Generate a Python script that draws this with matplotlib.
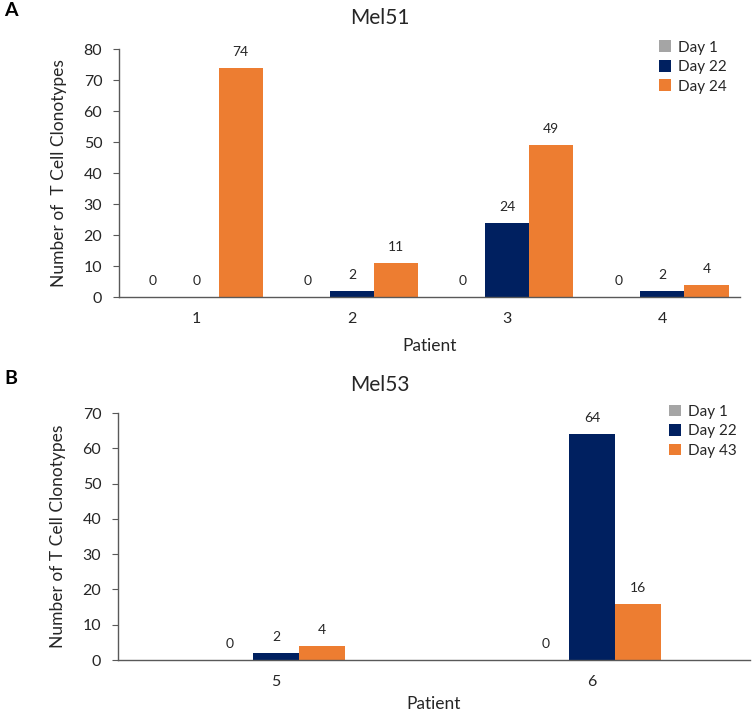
import matplotlib
matplotlib.use("Agg")
import matplotlib.pyplot as plt
import numpy as np

plt.rcParams['font.family'] = ['Lato', 'DejaVu Sans']

# Data
patients_a = ["1", "2", "3", "4"]
day1_a = [0, 0, 0, 0]
day22_a = [0, 2, 24, 2]
day24_a = [74, 11, 49, 4]

patients_b = ["5", "6"]
day1_b = [0, 0]
day22_b = [2, 64]
day43_b = [4, 16]

C_GRAY = "#A5A5A5"
C_NAVY = "#002060"
C_ORANGE = "#ED7D31"
TXT = "#262626"
SPINE = "#595959"

W, H = 752, 714
fig = plt.figure(figsize=(W/100, H/100), dpi=100)

def px_axes(l, r, b, t):
    return fig.add_axes([l/W, 1 - b/H, (r-l)/W, (b-t)/H])

def draw(ax, cats, series, labels, ymax, ystep, bw, ylabel, xlabelpad):
    x = np.arange(len(cats))
    colors = [C_GRAY, C_NAVY, C_ORANGE]
    offs = [-bw, 0, bw]
    for vals, lab, c, o in zip(series, labels, colors, offs):
        bars = ax.bar(x + o, vals, bw, color=c, label=lab)
        for rect, v in zip(bars, vals):
            ax.annotate(str(v), (rect.get_x() + rect.get_width()/2, rect.get_height()),
                        xytext=(0, 7), textcoords="offset points",
                        ha="center", va="bottom", fontsize=10, color=TXT)
    ax.set_xlim(-0.5, len(cats) - 0.5)
    ax.set_ylim(0, ymax)
    ax.set_yticks(np.arange(0, ymax + 1, ystep))
    ax.set_xticks(x)
    ax.set_xticklabels(cats)
    for s in ["top", "right"]:
        ax.spines[s].set_visible(False)
    for s in ["left", "bottom"]:
        ax.spines[s].set_color(SPINE)
        ax.spines[s].set_linewidth(1.0)
    ax.tick_params(axis="x", length=0, pad=11, labelsize=11.5, labelcolor=TXT)
    ax.tick_params(axis="y", length=4, color=SPINE, pad=8, labelsize=11.5, labelcolor=TXT)
    ax.set_xlabel("Patient", fontsize=12.5, color=TXT, labelpad=xlabelpad)
    ax.set_ylabel(ylabel, fontsize=12.5, color=TXT, labelpad=12)
    ax.legend(loc="upper right", bbox_to_anchor=(1.0, 1.09), frameon=False,
              fontsize=11, handlelength=0.8, handleheight=0.8, handletextpad=0.4,
              labelspacing=0.35, labelcolor=TXT)
    return ax

ax1 = px_axes(119, 740, 297, 49)
draw(ax1, patients_a, [day1_a, day22_a, day24_a], ["Day 1", "Day 22", "Day 24"],
     80, 10, 0.284, "Number of  T Cell Clonotypes", 8.5)

ax2 = px_axes(118, 750, 660, 413)
draw(ax2, patients_b, [day1_b, day22_b, day43_b], ["Day 1", "Day 22", "Day 43"],
     70, 10, 0.146, "Number of T Cell Clonotypes", 4.5)

fig.text(380/W, 1 - 18/H, "Mel51", ha="center", va="center", fontsize=15, color=TXT)
fig.text(380/W, 1 - 385/H, "Mel53", ha="center", va="center", fontsize=15, color=TXT)
fig.text(4/W, 1 - 10/H, "A", ha="left", va="center", fontsize=14, fontweight="bold", color="black")
fig.text(4/W, 1 - 378/H, "B", ha="left", va="center", fontsize=14, fontweight="bold", color="black")

fig.savefig("out.png", dpi=100)
